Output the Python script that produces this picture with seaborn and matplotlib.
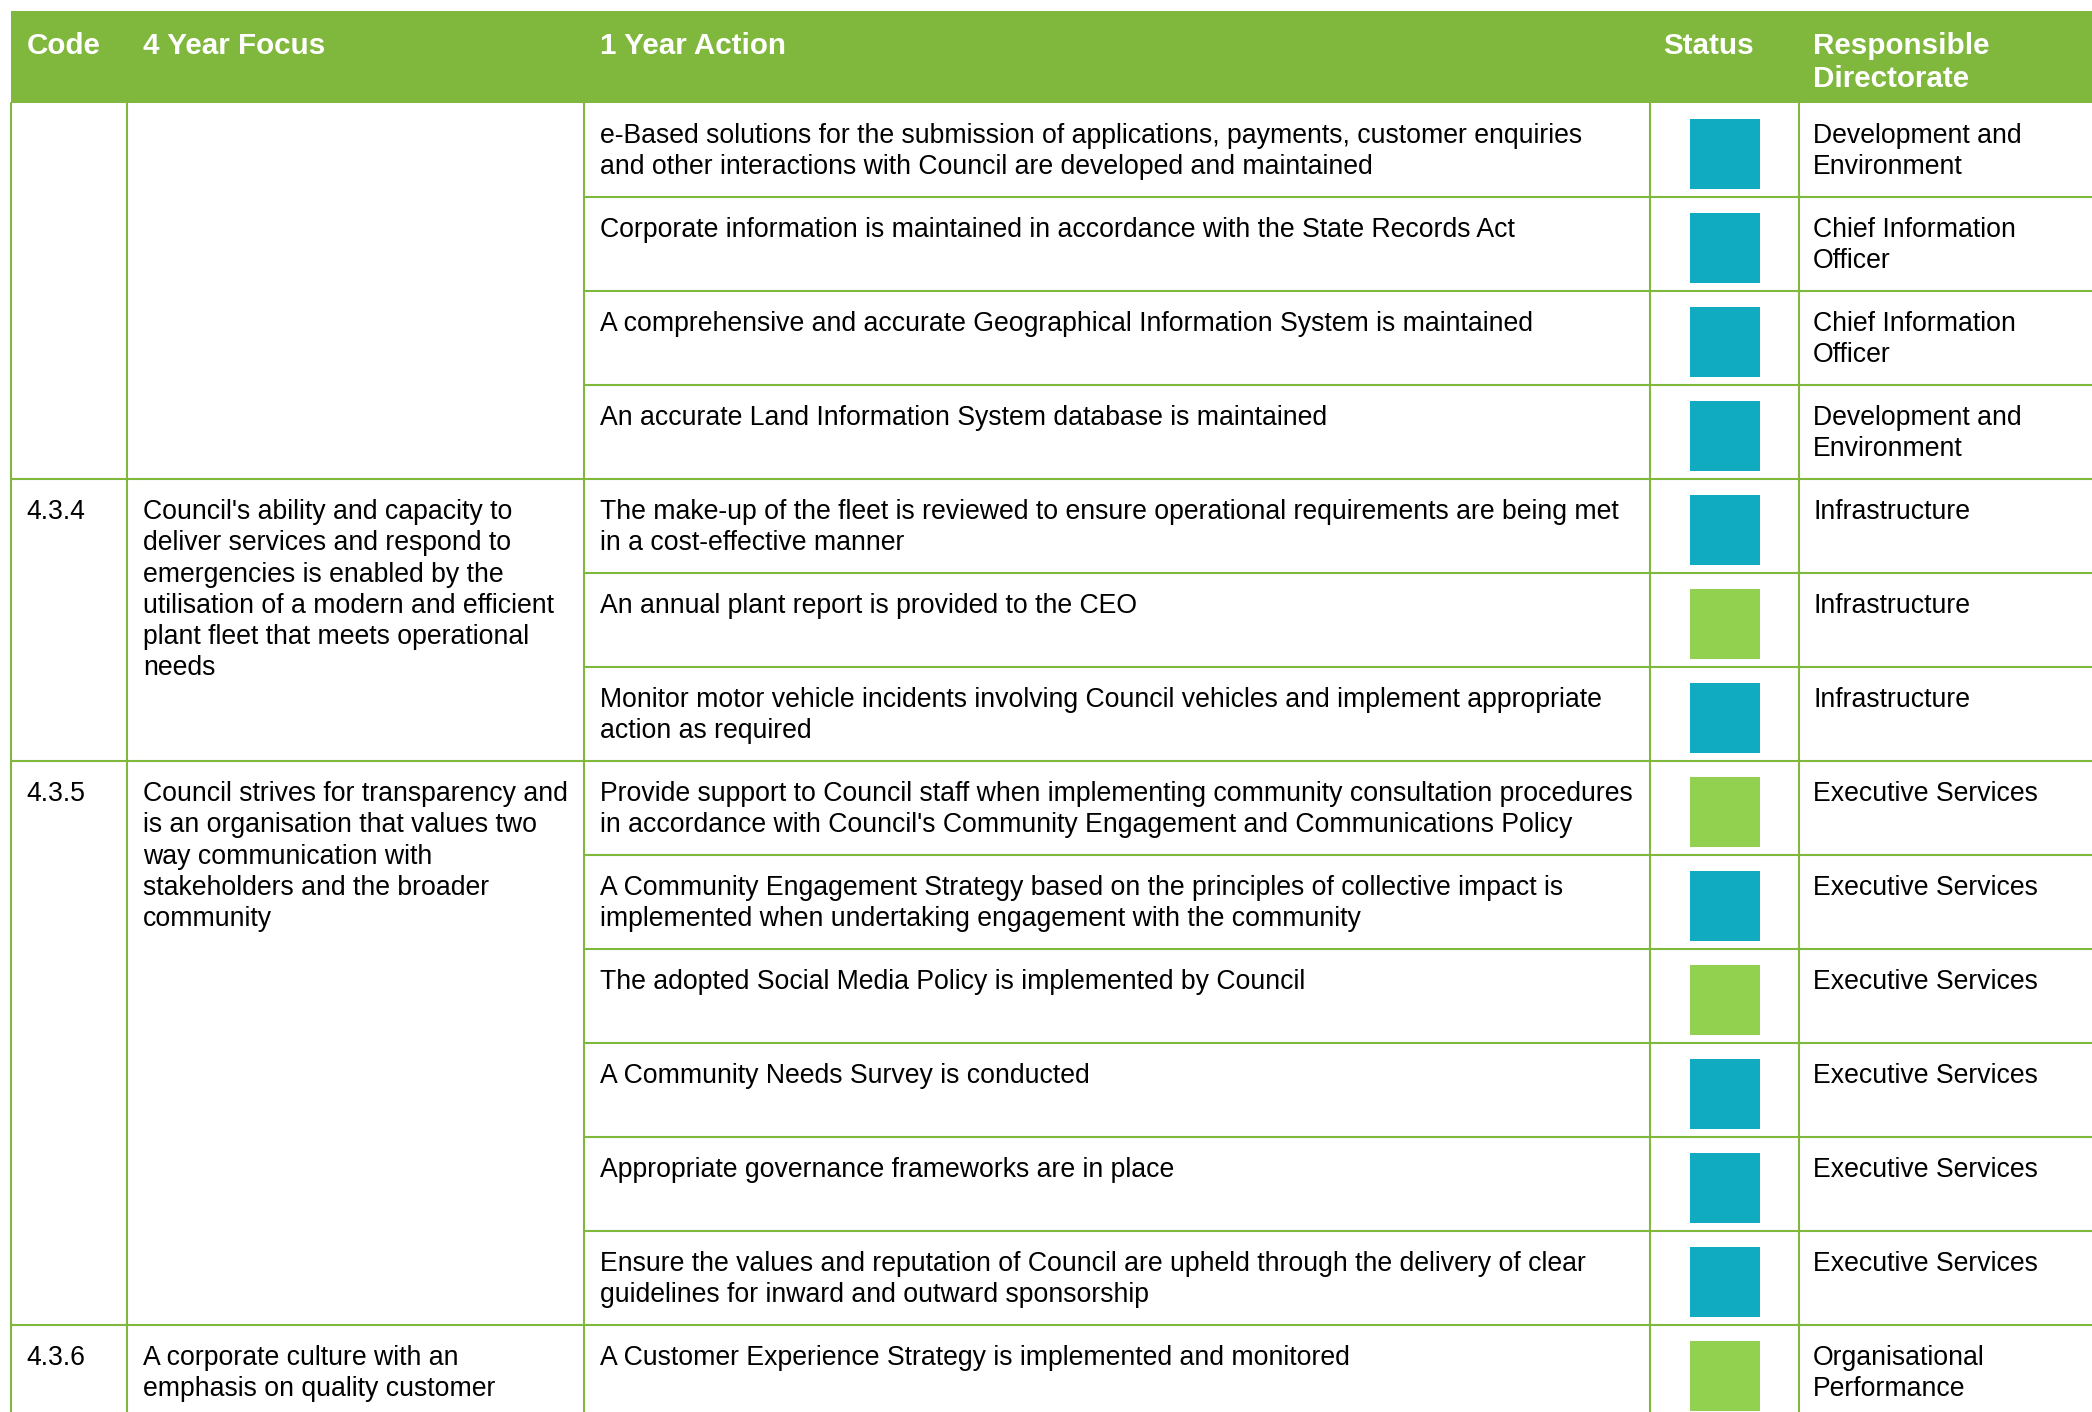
import pandas as pd
import matplotlib.pyplot as plt
import seaborn as sns
from matplotlib.patches import Rectangle

# table content
headers = ["Code", "4 Year Focus", "1 Year Action", "Status", "Responsible\nDirectorate"]

codes = ["", "4.3.4", "4.3.5", "4.3.6"]
focus = [
    "",
    "Council's ability and capacity to\ndeliver services and respond to\nemergencies is enabled by the\n"
    "utilisation of a modern and efficient\nplant fleet that meets operational\nneeds",
    "Council strives for transparency and\nis an organisation that values two\nway communication with\n"
    "stakeholders and the broader\ncommunity",
    "A corporate culture with an\nemphasis on quality customer",
]
group_sizes = [4, 3, 6, 1]

actions = [
    "e-Based solutions for the submission of applications, payments, customer enquiries\n"
    "and other interactions with Council are developed and maintained",
    "Corporate information is maintained in accordance with the State Records Act",
    "A comprehensive and accurate Geographical Information System is maintained",
    "An accurate Land Information System database is maintained",
    "The make-up of the fleet is reviewed to ensure operational requirements are being met\n"
    "in a cost-effective manner",
    "An annual plant report is provided to the CEO",
    "Monitor motor vehicle incidents involving Council vehicles and implement appropriate\n"
    "action as required",
    "Provide support to Council staff when implementing community consultation procedures\n"
    "in accordance with Council's Community Engagement and Communications Policy",
    "A Community Engagement Strategy based on the principles of collective impact is\n"
    "implemented when undertaking engagement with the community",
    "The adopted Social Media Policy is implemented by Council",
    "A Community Needs Survey is conducted",
    "Appropriate governance frameworks are in place",
    "Ensure the values and reputation of Council are upheld through the delivery of clear\n"
    "guidelines for inward and outward sponsorship",
    "A Customer Experience Strategy is implemented and monitored",
]
statuses = ["teal", "teal", "teal", "teal", "teal", "green", "teal",
            "green", "teal", "green", "teal", "teal", "teal", "green"]
directorates = [
    "Development and\nEnvironment", "Chief Information\nOfficer", "Chief Information\nOfficer",
    "Development and\nEnvironment", "Infrastructure", "Infrastructure", "Infrastructure",
    "Executive Services", "Executive Services", "Executive Services", "Executive Services",
    "Executive Services", "Executive Services", "Organisational\nPerformance",
]

STATUS_COLORS = {"teal": "#10AAC1", "green": "#92D050"}
GREEN = "#80B73D"

# layout in pixels
W, H = 2092, 1412
LEFT, TOP = 10.7, 10.7
HEAD_BOTTOM = 102.7
ROW_H = 94.0
COL_LINES = [LEFT, 126.8, 584.4, 1650, 1798.5]
TEXT_X = [26.7, 142.8, 600.4, 1663.5, 1813]
STATUS_X = 1724.5
BODY_SIZE = 19.2
HEAD_SIZE = 21.3

sns.set_theme(style="white")
plt.rcParams["font.family"] = ["Liberation Sans", "DejaVu Sans"]

fig = plt.figure(figsize=(W / 100, H / 100), dpi=100)
ax = fig.add_axes([0, 0, 1, 1])


def put_lines(x, y0, text, pitch, **kw):
    for k, line in enumerate(text.split("\n")):
        ax.text(x, y0 + k * pitch, line, va="baseline", ha="left", **kw)


# header band
ax.add_patch(Rectangle((LEFT, TOP), W - LEFT, HEAD_BOTTOM - TOP, color=GREEN, lw=0))
for x, h in zip(TEXT_X, headers):
    put_lines(x, 53.5, h, 33.3, color="white", fontsize=HEAD_SIZE, fontweight="bold")

# grid lines
for x in COL_LINES:
    ax.plot([x, x], [HEAD_BOTTOM, H], color=GREEN, lw=1.5)

row_tops = [HEAD_BOTTOM + i * ROW_H for i in range(len(actions))]
start = 0
group_starts = []
for size in group_sizes:
    group_starts.append(start)
    start += size

for i, top in enumerate(row_tops):
    if i == 0:
        continue
    x0 = LEFT if i in group_starts else COL_LINES[2]
    ax.plot([x0, W], [top, top], color=GREEN, lw=1.5)

# group text
for g, s in enumerate(group_starts):
    put_lines(TEXT_X[0], row_tops[s] + 40.5, codes[g], 31.2, color="black", fontsize=BODY_SIZE)
    put_lines(TEXT_X[1], row_tops[s] + 40.5, focus[g], 31.2, color="black", fontsize=BODY_SIZE)

# row text
for i, top in enumerate(row_tops):
    put_lines(TEXT_X[2], top + 40.5, actions[i], 31.2, color="black", fontsize=BODY_SIZE)
    put_lines(TEXT_X[4], top + 40.5, directorates[i], 31.2, color="black", fontsize=BODY_SIZE)

# status squares
df = pd.DataFrame({
    "x": [STATUS_X] * len(statuses),
    "y": [t + 51 for t in row_tops],
    "status": statuses,
})
sns.scatterplot(data=df, x="x", y="y", hue="status", palette=STATUS_COLORS,
                marker="s", s=50.4 ** 2, linewidth=0, legend=False, ax=ax)
ax.set_xlim(0, W)
ax.set_ylim(H, 0)
ax.axis("off")

fig.savefig("out.png", dpi=100)
